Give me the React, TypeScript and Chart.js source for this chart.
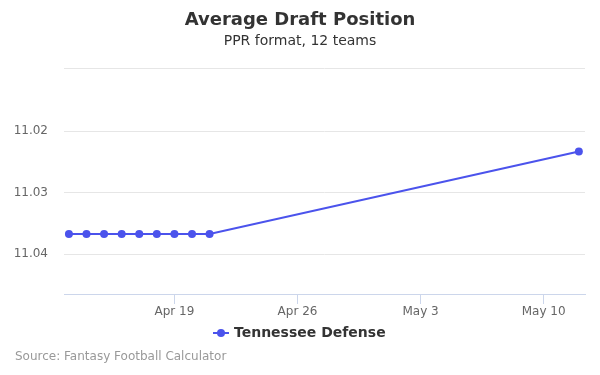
import React, { useEffect, useRef } from "react";
import { Chart, registerables } from "chart.js";

Chart.register(...registerables);

// Day numbers counted from March 31 (so 13 = Apr 13, 42 = May 12)
const dayNumbers = [13, 14, 15, 16, 17, 18, 19, 20, 21, 42];
const adpValues = [11.0367, 11.0367, 11.0367, 11.0367, 11.0367, 11.0367, 11.0367, 11.0367, 11.0367, 11.0233];
const seriesName = "Tennessee Defense";

const xTickDays = [19, 26, 33, 40];
const xTickLabels = ["Apr 19", "Apr 26", "May 3", "May 10"];
const yTickValues = [11.02, 11.03, 11.04];
const yTickLabels = ["11.02", "11.03", "11.04"];

const titleText = "Average Draft Position";
const subtitleText = "PPR format, 12 teams";
const sourceText = "Source: Fantasy Football Calculator";

const LINE_COLOR = "#4b53ec";
const FONT = "'DejaVu Sans', sans-serif";

export default function App() {
  const ref = useRef<HTMLCanvasElement>(null);

  useEffect(() => {
    if (!ref.current) return;
    const textPlugin = {
      id: "texts",
      afterDraw(chart: any) {
        const ctx = chart.ctx;
        ctx.save();
        ctx.fillStyle = "#333333";
        ctx.textAlign = "center";
        ctx.textBaseline = "middle";
        ctx.font = `bold 18px ${FONT}`;
        ctx.fillText(titleText, 300, 20);
        ctx.font = `14px ${FONT}`;
        ctx.fillText(subtitleText, 300, 41);
        // legend
        ctx.strokeStyle = LINE_COLOR;
        ctx.lineWidth = 2;
        ctx.beginPath();
        ctx.moveTo(213, 333);
        ctx.lineTo(229, 333);
        ctx.stroke();
        ctx.fillStyle = LINE_COLOR;
        ctx.beginPath();
        ctx.arc(221, 333, 4, 0, Math.PI * 2);
        ctx.fill();
        ctx.fillStyle = "#333333";
        ctx.textAlign = "left";
        ctx.font = `bold 14px ${FONT}`;
        ctx.fillText(seriesName, 234, 333);
        ctx.fillStyle = "#999999";
        ctx.font = `12px ${FONT}`;
        ctx.fillText(sourceText, 15, 356.5);
        ctx.restore();
      },
    };

    const chart = new Chart(ref.current, {
      type: "line",
      data: {
        datasets: [
          {
            label: seriesName,
            data: dayNumbers.map((d, i) => ({ x: d, y: adpValues[i] })),
            borderColor: LINE_COLOR,
            backgroundColor: LINE_COLOR,
            borderWidth: 2,
            pointRadius: 4,
            pointBorderWidth: 0,
            pointHoverRadius: 4,
            tension: 0,
          },
        ],
      },
      options: {
        responsive: false,
        animation: false,
        layout: { padding: { top: 68, left: 0, right: 15, bottom: 51 } },
        plugins: {
          legend: { display: false },
          title: { display: false },
          tooltip: { enabled: false },
        },
        scales: {
          x: {
            type: "linear",
            min: 12.72,
            max: 42.35,
            afterBuildTicks: (s: any) => {
              s.ticks = xTickDays.map((v) => ({ value: v }));
            },
            afterFit: (s: any) => {
              s.height = 30;
            },
            ticks: {
              autoSkip: false,
              maxRotation: 0,
              padding: 1,
              color: "#666666",
              font: { family: FONT, size: 12 },
              callback: (v: any) => {
                const i = xTickDays.indexOf(Number(v));
                return i >= 0 ? xTickLabels[i] : "";
              },
            },
            grid: {
              drawOnChartArea: false,
              drawTicks: true,
              tickLength: 10,
              color: "#ccd6eb",
            },
            border: { color: "#ccd6eb", width: 1 },
          },
          y: {
            type: "linear",
            reverse: true,
            min: 11.00971,
            max: 11.04646,
            afterBuildTicks: (s: any) => {
              s.ticks = [{ value: s.min }, ...yTickValues.map((v) => ({ value: v }))];
            },
            afterFit: (s: any) => {
              s.width = 64;
            },
            ticks: {
              autoSkip: false,
              padding: 16,
              color: "#666666",
              font: { family: FONT, size: 12 },
              callback: (v: any) => {
                const i = yTickValues.findIndex((t) => Math.abs(t - Number(v)) < 1e-6);
                return i >= 0 ? yTickLabels[i] : "";
              },
            },
            grid: { color: "#e6e6e6", drawTicks: false, lineWidth: 1 },
            border: { display: false },
          },
        },
      },
      plugins: [textPlugin],
    } as any);
    return () => chart.destroy();
  }, []);

  return (
    <div style={{ position: "absolute", left: 0, top: 0, width: 600, height: 375, background: "#ffffff" }}>
      <canvas ref={ref} width={600} height={375} />
    </div>
  );
}
